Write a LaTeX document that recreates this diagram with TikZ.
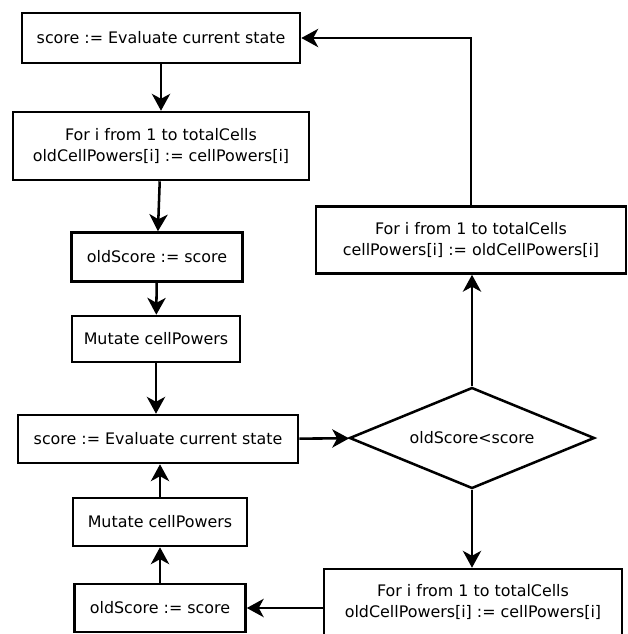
\documentclass[tikz,border=0pt]{standalone}
\usepackage{fontspec}
\setmainfont{DejaVu Sans}
\usetikzlibrary{shapes.geometric, arrows.meta, positioning}

\begin{document}
\begin{tikzpicture}[
    x=0.025cm, y=-0.025cm,
    box/.style={rectangle, draw=black, line width=1.8pt, fill=white, align=center,
                font=\fontsize{11.3}{14.3}\selectfont, inner sep=2pt},
    test/.style={diamond, shape aspect=2.43, draw=black, line width=1.8pt, fill=white, align=center,
                font=\fontsize{11.3}{14.3}\selectfont, inner sep=0pt},
    arrow/.style={-{Stealth[length=12pt, width=13pt, inset=3.5pt]}, line width=1.8pt, black}
]
\useasboundingbox (0,0) rectangle (628,634);

\node[box, minimum width=6.95cm, minimum height=1.25cm] (evalA) at (161,38) {score := Evaluate current state};
\node[box, minimum width=7.4cm, minimum height=1.7cm] (saveA) at (161,146) {For i from 1 to totalCells\\oldCellPowers[i] := cellPowers[i]};
\node[box, minimum width=4.275cm, minimum height=1.225cm] (oldA) at (157,257) {oldScore := score};
\node[box, minimum width=4.2cm, minimum height=1.15cm] (mutA) at (156,339) {Mutate cellPowers};
\node[box, minimum width=7.0cm, minimum height=1.2cm] (evalB) at (158,439) {score := Evaluate current state};
\node[box, minimum width=4.35cm, minimum height=1.2cm] (mutB) at (160,522) {Mutate cellPowers};
\node[box, minimum width=4.275cm, minimum height=1.2cm] (oldB) at (160,608) {oldScore := score};
\node[test, minimum width=6.125cm, minimum height=2.525cm] (cmp) at (472,438) {oldScore<score};
\node[box, minimum width=7.45cm, minimum height=1.65cm] (saveB) at (473,602) {For i from 1 to totalCells\\oldCellPowers[i] := cellPowers[i]};
\node[box, minimum width=7.75cm, minimum height=1.675cm] (restore) at (471,240) {For i from 1 to totalCells\\cellPowers[i] := oldCellPowers[i]};

\draw[arrow] (evalA) -- (saveA);
\draw[arrow] (saveA) -- (oldA);
\draw[arrow] (oldA) -- (mutA);
\draw[arrow] (mutA) -- (mutA |- evalB.north);
\draw[arrow] (evalB) -- (cmp);
\draw[arrow] (cmp) -- (cmp |- restore.south);
\draw[arrow] (cmp) -- (cmp |- saveB.north);
\draw[arrow] (saveB.west |- oldB.east) -- (oldB.east);
\draw[arrow] (oldB) -- (mutB);
\draw[arrow] (mutB) -- (mutB |- evalB.south);
\draw[arrow] (restore.north) |- (evalA.east);
\end{tikzpicture}
\end{document}
